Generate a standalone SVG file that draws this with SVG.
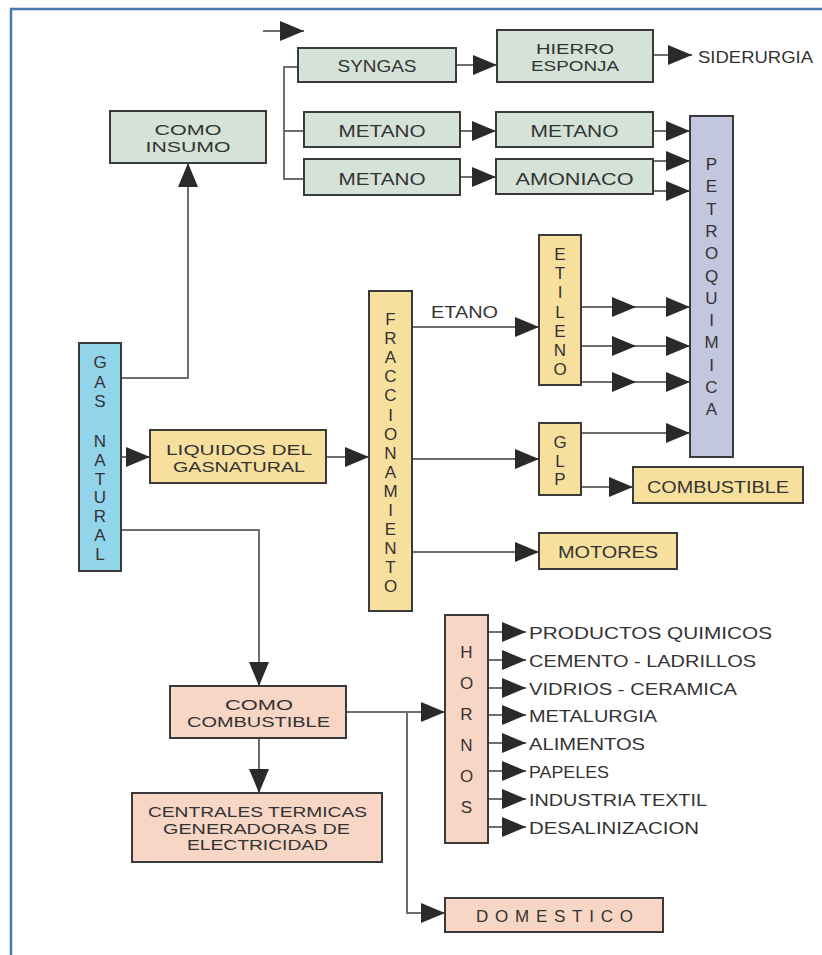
<svg xmlns="http://www.w3.org/2000/svg" width="822" height="955" viewBox="0 0 822 955">
<style>
text{font-family:"Liberation Sans",Arial,sans-serif;font-size:17px;fill:#333}
text.m{font-size:14.5px}
.c{text-anchor:middle}
.box{stroke:#3a3a3a;stroke-width:2}
.g{fill:#d5e2d8}.y{fill:#f7e09e}.b{fill:#92d4ea}.p{fill:#c2c6df}.r{fill:#f8d6c6}
.conn path{fill:none;stroke:#6e6e6e;stroke-width:2;marker-end:url(#ah)}
.conn path.nm{marker-end:none}
.frame{stroke:#4a78ad;stroke-width:2.5;fill:none}
</style>
<defs>
<marker id="ah" markerUnits="userSpaceOnUse" markerWidth="24" markerHeight="20" refX="24" refY="10" orient="auto">
<path d="M0,0 L24,10 L0,20 Z" fill="#2a2a2a"/>
</marker>
</defs>
<rect width="822" height="955" fill="#fff"/>
<path class="frame" d="M11,955 V9 H822"/>

<g class="conn" id="connectors">
<path d="M263,31 H304"/>
<path class="nm" d="M298,67 H284 V179 H304 M284,131 H304"/>
<path d="M456,65 H497"/>
<path d="M653,55 H692"/>
<path d="M460,131 H496"/>
<path d="M460,177 H496"/>
<path d="M653,131 H690"/>
<path d="M653,161 H690"/>
<path d="M653,191 H690"/>
<path d="M121,378 H188 V163"/>
<path d="M121,457 H150"/>
<path d="M326,457 H369"/>
<path d="M412,327 H539"/>
<path d="M412,459 H539"/>
<path d="M412,552 H539"/>
<path d="M581,307 H636"/><path d="M636,307 H690"/>
<path d="M581,346 H636"/><path d="M636,346 H690"/>
<path d="M581,382 H636"/><path d="M636,382 H690"/>
<path d="M581,433 H690"/>
<path d="M581,487 H633"/>
<path d="M121,530 H259 V686"/>
<path d="M259,738 V793"/>
<path d="M346,712 H445"/>
<path d="M407,712 V913 H445"/>
<path d="M488,632 H526"/>
<path d="M488,660 H526"/>
<path d="M488,688 H526"/>
<path d="M488,715 H526"/>
<path d="M488,743 H526"/>
<path d="M488,771 H526"/>
<path d="M488,799 H526"/>
<path d="M488,827 H526"/>
</g>

<g id="syngas"><rect class="box g" x="298" y="48" width="158" height="34"/><text class="c" x="377" y="72" textLength="79" lengthAdjust="spacingAndGlyphs">SYNGAS</text></g>
<g id="hierro"><rect class="box g" x="497" y="30" width="156" height="52"/><text class="c m" x="575" y="54" textLength="78" lengthAdjust="spacingAndGlyphs">HIERRO</text><text class="c m" x="575" y="71" textLength="88" lengthAdjust="spacingAndGlyphs">ESPONJA</text></g>
<g id="siderurgia"><text x="698" y="63" textLength="115" lengthAdjust="spacingAndGlyphs">SIDERURGIA</text></g>
<g id="metano1"><rect class="box g" x="304" y="112" width="156" height="35"/><text class="c" x="382" y="137" textLength="87" lengthAdjust="spacingAndGlyphs">METANO</text></g>
<g id="metano2"><rect class="box g" x="496" y="112" width="157" height="35"/><text class="c" x="574.5" y="137" textLength="88" lengthAdjust="spacingAndGlyphs">METANO</text></g>
<g id="metano3"><rect class="box g" x="304" y="159" width="156" height="36"/><text class="c" x="382" y="185" textLength="87" lengthAdjust="spacingAndGlyphs">METANO</text></g>
<g id="amoniaco"><rect class="box g" x="496" y="159" width="157" height="35"/><text class="c" x="574.5" y="185" textLength="118" lengthAdjust="spacingAndGlyphs">AMONIACO</text></g>
<g id="petroquimica"><rect class="box p" x="690" y="116" width="43" height="341"/>
<text class="c"><tspan x="711.5" y="170">P</tspan><tspan x="711.5" y="192.3">E</tspan><tspan x="711.5" y="214.6">T</tspan><tspan x="711.5" y="236.9">R</tspan><tspan x="711.5" y="259.2">O</tspan><tspan x="711.5" y="281.5">Q</tspan><tspan x="711.5" y="303.8">U</tspan><tspan x="711.5" y="326.1">I</tspan><tspan x="711.5" y="348.4">M</tspan><tspan x="711.5" y="370.7">I</tspan><tspan x="711.5" y="393">C</tspan><tspan x="711.5" y="415.3">A</tspan></text></g>
<g id="como-insumo"><rect class="box g" x="110" y="111" width="156" height="52"/><text class="c m" x="188" y="135" textLength="67" lengthAdjust="spacingAndGlyphs">COMO</text><text class="c m" x="188" y="152" textLength="85" lengthAdjust="spacingAndGlyphs">INSUMO</text></g>
<g id="gas-natural"><rect class="box b" x="79" y="343" width="42" height="228"/>
<text class="c"><tspan x="100" y="368">G</tspan><tspan x="100" y="387.5">A</tspan><tspan x="100" y="407">S</tspan><tspan x="100" y="447">N</tspan><tspan x="100" y="465.8">A</tspan><tspan x="100" y="484.6">T</tspan><tspan x="100" y="503.4">U</tspan><tspan x="100" y="522.2">R</tspan><tspan x="100" y="541">A</tspan><tspan x="100" y="560">L</tspan></text></g>
<g id="liquidos"><rect class="box y" x="150" y="430" width="176" height="53"/><text class="c m" x="239" y="455" textLength="146" lengthAdjust="spacingAndGlyphs">LIQUIDOS DEL</text><text class="c m" x="239" y="472" textLength="132" lengthAdjust="spacingAndGlyphs">GASNATURAL</text></g>
<g id="fraccionamiento"><rect class="box y" x="369" y="291" width="43" height="320"/>
<text class="c"><tspan x="390.5" y="325">F</tspan><tspan x="390.5" y="344.1">R</tspan><tspan x="390.5" y="363.2">A</tspan><tspan x="390.5" y="382.3">C</tspan><tspan x="390.5" y="401.4">C</tspan><tspan x="390.5" y="420.5">I</tspan><tspan x="390.5" y="439.6">O</tspan><tspan x="390.5" y="458.7">N</tspan><tspan x="390.5" y="477.8">A</tspan><tspan x="390.5" y="496.9">M</tspan><tspan x="390.5" y="516">I</tspan><tspan x="390.5" y="535.1">E</tspan><tspan x="390.5" y="554.2">N</tspan><tspan x="390.5" y="573.3">T</tspan><tspan x="390.5" y="592.4">O</tspan></text></g>
<g id="etano-label"><text x="431" y="318" textLength="67" lengthAdjust="spacingAndGlyphs">ETANO</text></g>
<g id="etileno"><rect class="box y" x="539" y="235" width="42" height="150"/>
<text class="c"><tspan x="560" y="260">E</tspan><tspan x="560" y="279.2">T</tspan><tspan x="560" y="298.4">I</tspan><tspan x="560" y="317.6">L</tspan><tspan x="560" y="336.8">E</tspan><tspan x="560" y="356">N</tspan><tspan x="560" y="375.2">O</tspan></text></g>
<g id="glp"><rect class="box y" x="539" y="423" width="42" height="72"/>
<text class="c"><tspan x="560" y="448">G</tspan><tspan x="560" y="466.5">L</tspan><tspan x="560" y="485">P</tspan></text></g>
<g id="combustible-glp"><rect class="box y" x="633" y="467" width="170" height="36"/><text class="c" x="718" y="493" textLength="142" lengthAdjust="spacingAndGlyphs">COMBUSTIBLE</text></g>
<g id="motores"><rect class="box y" x="539" y="533" width="138" height="36"/><text class="c" x="608" y="558" textLength="100" lengthAdjust="spacingAndGlyphs">MOTORES</text></g>
<g id="como-combustible"><rect class="box r" x="170" y="686" width="176" height="52"/><text class="c m" x="259" y="710" textLength="68" lengthAdjust="spacingAndGlyphs">COMO</text><text class="c m" x="258.5" y="727" textLength="143" lengthAdjust="spacingAndGlyphs">COMBUSTIBLE</text></g>
<g id="centrales"><rect class="box r" x="132" y="793" width="250" height="69"/><text class="c m" x="257.5" y="817" textLength="219" lengthAdjust="spacingAndGlyphs">CENTRALES TERMICAS</text><text class="c m" x="256.5" y="833.5" textLength="187" lengthAdjust="spacingAndGlyphs">GENERADORAS DE</text><text class="c m" x="257.5" y="850" textLength="141" lengthAdjust="spacingAndGlyphs">ELECTRICIDAD</text></g>
<g id="hornos"><rect class="box r" x="445" y="615" width="43" height="228"/>
<text class="c"><tspan x="466.5" y="658">H</tspan><tspan x="466.5" y="689">O</tspan><tspan x="466.5" y="720">R</tspan><tspan x="466.5" y="751">N</tspan><tspan x="466.5" y="782">O</tspan><tspan x="466.5" y="813">S</tspan></text></g>
<g id="hornos-items">
<text x="529" y="639" textLength="243" lengthAdjust="spacingAndGlyphs">PRODUCTOS QUIMICOS</text>
<text x="529" y="667" textLength="227" lengthAdjust="spacingAndGlyphs">CEMENTO - LADRILLOS</text>
<text x="529" y="695" textLength="208" lengthAdjust="spacingAndGlyphs">VIDRIOS - CERAMICA</text>
<text x="529" y="722" textLength="128" lengthAdjust="spacingAndGlyphs">METALURGIA</text>
<text x="529" y="750" textLength="116" lengthAdjust="spacingAndGlyphs">ALIMENTOS</text>
<text x="529" y="778" textLength="80" lengthAdjust="spacingAndGlyphs">PAPELES</text>
<text x="529" y="806" textLength="178" lengthAdjust="spacingAndGlyphs">INDUSTRIA TEXTIL</text>
<text x="529" y="834" textLength="170" lengthAdjust="spacingAndGlyphs">DESALINIZACION</text>
</g>
<g id="domestico"><rect class="box r" x="445" y="898" width="218" height="34"/><text x="476" y="922" textLength="157" lengthAdjust="spacing">DOMESTICO</text></g>
</svg>
